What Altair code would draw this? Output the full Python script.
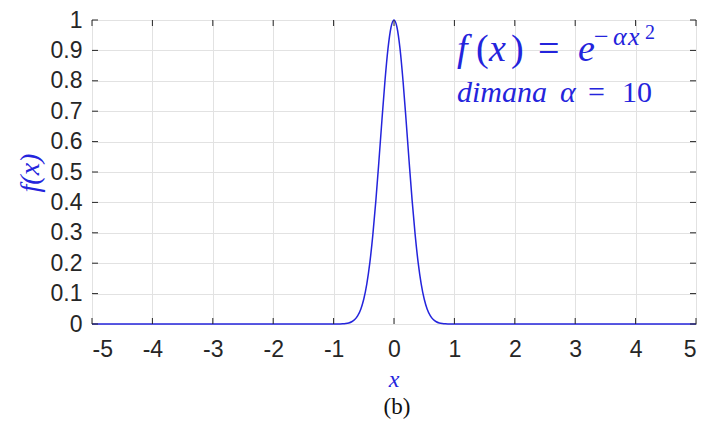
import altair as alt
import pandas as pd

# Sampled profile of f(x) = exp(-alpha x^2) with alpha = 10
x_vals = [-5.0, -1.0, -0.95, -0.9, -0.85, -0.8, -0.75, -0.7, -0.65, -0.6, -0.55,
          -0.5, -0.45, -0.4, -0.35, -0.3, -0.25, -0.2, -0.15, -0.1, -0.05,
          0.0, 0.05, 0.1, 0.15, 0.2, 0.25, 0.3, 0.35, 0.4, 0.45, 0.5,
          0.55, 0.6, 0.65, 0.7, 0.75, 0.8, 0.85, 0.9, 0.95, 1.0, 5.0]
f_vals = [0.0, 0.0000, 0.0001, 0.0003, 0.0007, 0.0017, 0.0036, 0.0074, 0.0146, 0.0273, 0.0486,
          0.0821, 0.1320, 0.2019, 0.2938, 0.4066, 0.5353, 0.6703, 0.7985, 0.9048, 0.9753,
          1.0, 0.9753, 0.9048, 0.7985, 0.6703, 0.5353, 0.4066, 0.2938, 0.2019, 0.1320, 0.0821,
          0.0486, 0.0273, 0.0146, 0.0074, 0.0036, 0.0017, 0.0007, 0.0003, 0.0001, 0.0000, 0.0]

x_ticks = [-5, -4, -3, -2, -1, 0, 1, 2, 3, 4, 5]
y_ticks = [0, 0.1, 0.2, 0.3, 0.4, 0.5, 0.6, 0.7, 0.8, 0.9, 1]

W, H = 604, 304
BLUE = "#2424dc"
INK = "#262626"
SERIF = "Liberation Serif"
SANS = "Liberation Sans"
TICK = 6

curve_df = pd.DataFrame({"x": x_vals, "f": f_vals})
xt_df = pd.DataFrame({"v": x_ticks})
yt_df = pd.DataFrame({"v": y_ticks})

xscale = alt.Scale(domain=[-5, 5], nice=False, zero=False)
yscale = alt.Scale(domain=[0, 1], nice=False, zero=False)

# one axis definition per direction, shared by every layer so they merge cleanly
xaxis = alt.Axis(values=x_ticks, title=None, grid=True, ticks=False, domain=False,
                 labelExpr="'' + datum.value", labelFont=SANS, labelFontSize=23,
                 labelColor=INK, labelPadding=14, labelOverlap=False, gridColor="#e2e2e2")
yaxis = alt.Axis(values=y_ticks, title=None, grid=True, ticks=False, domain=False,
                 labelExpr="'' + datum.value", labelFont=SANS, labelFontSize=23,
                 labelColor=INK, labelPadding=10, labelOverlap=False, gridColor="#e2e2e2")

curve = alt.Chart(curve_df).mark_line(color=BLUE, strokeWidth=1.5, interpolate="monotone").encode(
    x=alt.X("x:Q", scale=xscale, axis=xaxis),
    y=alt.Y("f:Q", scale=yscale, axis=yaxis),
)

# inward tick marks on all four sides of the box
xt_bottom = alt.Chart(xt_df).mark_rule(color=INK, strokeWidth=1).encode(
    x=alt.X("v:Q", scale=xscale, axis=xaxis), y=alt.value(H), y2=alt.value(H - TICK))
xt_top = alt.Chart(xt_df).mark_rule(color=INK, strokeWidth=1).encode(
    x=alt.X("v:Q", scale=xscale, axis=xaxis), y=alt.value(0), y2=alt.value(TICK))
yt_left = alt.Chart(yt_df).mark_rule(color=INK, strokeWidth=1).encode(
    y=alt.Y("v:Q", scale=yscale, axis=yaxis), x=alt.value(0), x2=alt.value(TICK))
yt_right = alt.Chart(yt_df).mark_rule(color=INK, strokeWidth=1).encode(
    y=alt.Y("v:Q", scale=yscale, axis=yaxis), x=alt.value(W), x2=alt.value(W - TICK))


def label(text, px, py, size, italic=True, color=BLUE, align="left", angle=0, baseline="alphabetic"):
    kw = dict(text=text, font=SERIF, fontSize=size, color=color, align=align,
              baseline=baseline, fontStyle="italic" if italic else "normal")
    if angle:
        kw["angle"] = angle
    return alt.Chart(pd.DataFrame({"k": [0]})).mark_text(**kw).encode(
        x=alt.value(px), y=alt.value(py))


texts = [
    # f(x) = e^{-alpha x^2}
    label("f", 365, 41, 38),
    label("(", 384, 41, 38, italic=False),
    label("x", 397, 41, 38),
    label(")", 419, 41, 38, italic=False),
    label("=", 446, 41, 38, italic=False),
    label("e", 486, 41, 38),
    label("\u2212", 502, 25, 26, italic=False),
    label("\u03b1", 521, 25, 26),
    label("x", 536, 25, 26),
    label("2", 553, 19, 20, italic=False),
    # dimana alpha = 10
    label("dimana", 365, 82, 30),
    label("\u03b1", 468, 82, 30),
    label("=", 496, 82, 30, italic=False),
    label("10", 530, 82, 30, italic=False),
    # axis titles and panel tag
    label("f(x)", -61, 153, 28, align="center", angle=270, baseline="middle"),
    label("x", 302, 367, 24, align="center"),
    label("(b)", 305, 394, 23, italic=False, color="#111111", align="center"),
]

chart = alt.layer(curve, xt_bottom, xt_top, yt_left, yt_right, *texts).properties(
    width=W, height=H,
    autosize=alt.AutoSizeParams(type="none"),
    padding={"left": 92, "top": 20, "right": 9, "bottom": 112},
    background="white",
).configure_view(stroke=INK, strokeWidth=1)

chart.save("out.html", embed_options={"renderer": "svg", "actions": False})
